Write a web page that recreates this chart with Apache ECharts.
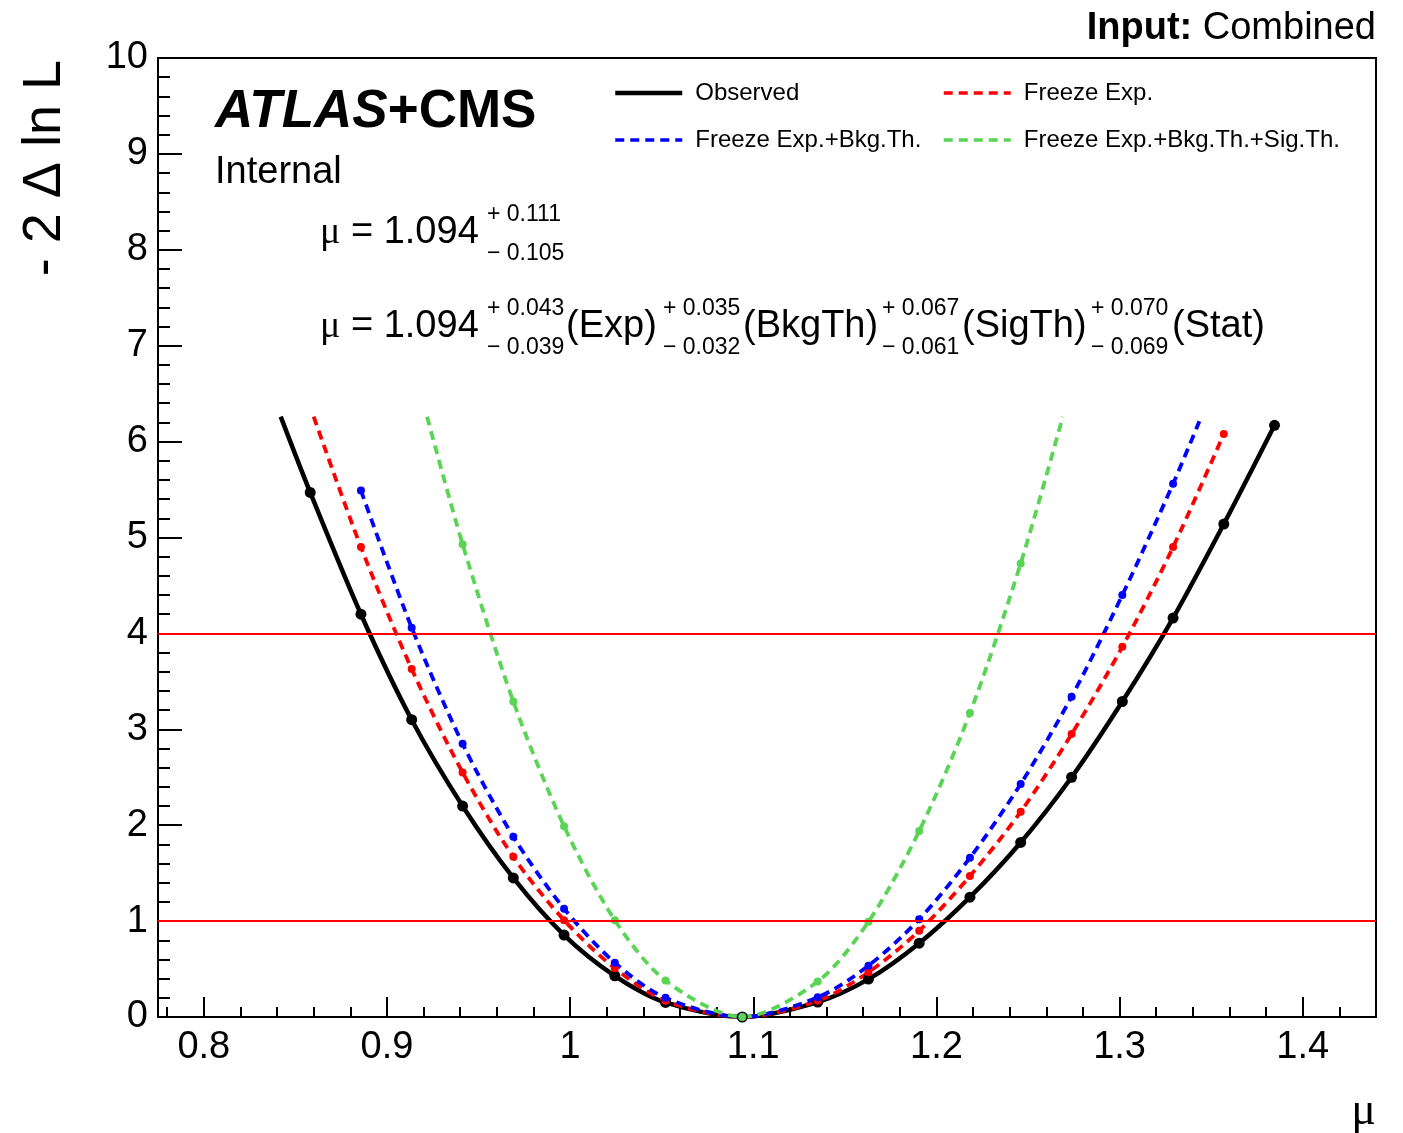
<!DOCTYPE html>
<html><head><meta charset="utf-8">
<script src="https://cdn.jsdelivr.net/npm/echarts@6/dist/echarts.min.js"></script>
<style>html,body{margin:0;padding:0;background:#fff}#c{width:1403px;height:1133px}</style>
</head><body><div id="c"></div>
<script>
// ---- data ----
const muScan = [0.8581, 0.8858, 0.9135, 0.9413, 0.9690, 0.9967, 1.0244, 1.0521, 1.0940, 1.1352, 1.1629, 1.1906, 1.2183, 1.2460, 1.2738, 1.3015, 1.3292, 1.3569, 1.3846];
const observed     = [5.47, 4.20, 3.10, 2.20, 1.45, 0.855, 0.43, 0.152, 0, 0.156, 0.395, 0.77, 1.25, 1.82, 2.50, 3.29, 4.16, 5.14, 6.17];
const freezeExp    = [null, 4.90, 3.63, 2.55, 1.67, 1.01, 0.508, 0.17, 0, 0.17, 0.466, 0.90, 1.47, 2.14, 2.95, 3.86, 4.90, 6.08, null];
const freezeExpBkg = [null, 5.49, 4.06, 2.85, 1.88, 1.13, 0.566, 0.20, 0, 0.205, 0.535, 1.02, 1.66, 2.43, 3.34, 4.40, 5.56, null, null];
const freezeAll    = [null, null, null, 4.93, 3.29, 1.99, 1.01, 0.38, 0, 0.37, 0.994, 1.94, 3.17, 4.73, null, null, null, null, null];
// points where each drawn curve stops (no marker)
const observedEnds     = [[0.842, 6.26], null];
const freezeExpEnds    = [[0.860, 6.26], null];
const freezeExpBkgEnds = [null, [1.3446, 6.26]];
const freezeAllEnds    = [[0.9219, 6.26], [1.269, 6.26]];
const thresholds = [1, 4];
const xMajorTicks = [0.8, 0.9, 1.0, 1.1, 1.2, 1.3, 1.4];
const xMinorTicks = [0.78, 0.82, 0.84, 0.86, 0.88, 0.92, 0.94, 0.96, 0.98, 1.02, 1.04, 1.06, 1.08, 1.12, 1.14, 1.16, 1.18, 1.22, 1.24, 1.26, 1.28, 1.32, 1.34, 1.36, 1.38, 1.42, 1.44];
const seriesNames = ['Observed', 'Freeze Exp.', 'Freeze Exp.+Bkg.Th.', 'Freeze Exp.+Bkg.Th.+Sig.Th.'];
const seriesColors = ['#000000', '#ff0000', '#0000ff', '#59d454'];

const SANS = "'Liberation Sans', Arial, Helvetica, sans-serif";
const SERIF = "'Liberation Serif', 'Times New Roman', serif";
const SOLID_W = 4.5, DASH_W = 3.8, DASH = [9, 6];

function build(vals, ends) {
  const out = [];
  if (ends[0]) out.push({ value: ends[0], symbol: 'none' });
  muScan.forEach((m, i) => { if (vals[i] !== null) out.push([m, vals[i]]); });
  if (ends[1]) out.push({ value: ends[1], symbol: 'none' });
  return out;
}

function curve(idx, vals, ends, dashed, size) {
  const color = seriesColors[idx];
  return {
    name: seriesNames[idx], type: 'line', data: build(vals, ends), smooth: 0.3,
    symbol: 'circle', symbolSize: size, clip: true,
    lineStyle: { color, width: dashed ? DASH_W : SOLID_W, type: dashed ? DASH : 'solid' },
    itemStyle: { color },
    emphasis: { disabled: true }
  };
}

function txt(x, y, text, size, opts) {
  opts = opts || {};
  return {
    type: 'text', x, y, rotation: opts.rotation || 0, silent: true,
    style: {
      text, fill: '#000', fontSize: size, fontFamily: opts.family || SANS,
      fontWeight: opts.weight || 'normal', fontStyle: opts.style || 'normal',
      align: opts.align || 'left', textAlign: opts.align || 'left',
      verticalAlign: 'middle', textVerticalAlign: 'middle', rich: opts.rich
    }
  };
}

const muRich = { m: { fontFamily: SERIF, fontSize: 38 }, n: { fontFamily: SANS, fontSize: 38 } };
const errs2 = [
  { x: 487, up: '+ 0.043', dn: '\u2212 0.039', lab: '(Exp)', lx: 566 },
  { x: 663, up: '+ 0.035', dn: '\u2212 0.032', lab: '(BkgTh)', lx: 743 },
  { x: 882, up: '+ 0.067', dn: '\u2212 0.061', lab: '(SigTh)', lx: 962 },
  { x: 1091, up: '+ 0.070', dn: '\u2212 0.069', lab: '(Stat)', lx: 1172 }
];

const graphics = [
  txt(1376, 29, '{b|Input:} Combined', 38, { align: 'right', rich: { b: { fontWeight: 'bold', fontSize: 38, fontFamily: SANS } } }),
  txt(215, 112, '{a|ATLAS}{b|+CMS}', 53, { rich: { a: { fontWeight: 'bold', fontStyle: 'italic', fontSize: 53, fontFamily: SANS }, b: { fontWeight: 'bold', fontSize: 53, fontFamily: SANS } } }),
  txt(215, 173, 'Internal', 38),
  txt(320, 233, '{m|\u03bc}{n| = 1.094}', 38, { rich: muRich }),
  txt(487, 215, '+ 0.111', 23),
  txt(487, 254, '\u2212 0.105', 23),
  txt(320, 327, '{m|\u03bc}{n| = 1.094}', 38, { rich: muRich }),
  txt(45, 60, '- 2 \u0394 ln L', 54, { align: 'right', rotation: Math.PI / 2 }),
  txt(1376, 1112, '\u03bc', 46, { align: 'right', family: SERIF })
];
errs2.forEach(e => {
  graphics.push(txt(e.x, 309, e.up, 23));
  graphics.push(txt(e.x, 348, e.dn, 23));
  graphics.push(txt(e.lx, 327, e.lab, 38));
});

function legendItem(idx) {
  const dashed = idx > 0;
  return {
    name: seriesNames[idx],
    lineStyle: { color: seriesColors[idx], width: dashed ? 3.5 : SOLID_W, type: dashed ? DASH : 'solid' }
  };
}

const legendCommon = {
  orient: 'vertical', top: 81, itemWidth: 67, itemHeight: 14, itemGap: 23,
  selectedMode: false, padding: 0,
  itemStyle: { color: 'rgba(0,0,0,0)', borderWidth: 0, opacity: 0 },
  textStyle: { fontSize: 24, fontFamily: SANS, color: '#000', lineHeight: 24, padding: [0, 0, 0, 8] }
};

const chart = echarts.init(document.getElementById('c'), null, { renderer: 'canvas' });
chart.setOption({
  animation: false,
  backgroundColor: '#fff',
  grid: { left: 158, right: 27, top: 58, bottom: 116, show: true, borderColor: '#000', borderWidth: 2, backgroundColor: 'rgba(0,0,0,0)', containLabel: false, outerBoundsMode: 'none' },
  legend: [
    Object.assign({}, legendCommon, { left: 613, data: [legendItem(0), legendItem(2)] }),
    Object.assign({}, legendCommon, { left: 942, data: [legendItem(1), legendItem(3)] })
  ],
  xAxis: [{
    type: 'value', min: 0.775, max: 1.44, position: 'bottom',
    axisLine: { show: true, onZero: false, lineStyle: { color: '#000', width: 2 } },
    axisTick: { show: true, inside: true, length: 20, customValues: xMajorTicks, lineStyle: { color: '#000', width: 2 } },
    axisLabel: { show: true, customValues: xMajorTicks, margin: 12, fontSize: 38, fontFamily: SANS, color: '#000' },
    splitLine: { show: false }
  }, {
    type: 'value', min: 0.775, max: 1.44, position: 'bottom',
    axisLine: { show: false },
    axisTick: { show: true, inside: true, length: 10, customValues: xMinorTicks, lineStyle: { color: '#000', width: 2 } },
    axisLabel: { show: false },
    splitLine: { show: false }
  }],
  yAxis: [{
    type: 'value', min: 0, max: 10, interval: 1,
    axisLine: { show: true, onZero: false, lineStyle: { color: '#000', width: 2 } },
    axisTick: { show: true, inside: true, length: 24, lineStyle: { color: '#000', width: 2 } },
    minorTick: { show: true, splitNumber: 5, length: 12, lineStyle: { color: '#000', width: 2 } },
    axisLabel: { fontSize: 38, fontFamily: SANS, color: '#000', margin: 10, padding: [6, 0, 0, 0], showMinLabel: true, showMaxLabel: true },
    splitLine: { show: false }, minorSplitLine: { show: false }
  }],
  series: [
    {
      type: 'line', data: [], silent: true,
      markLine: {
        silent: true, symbol: ['none', 'none'], label: { show: false }, animation: false,
        lineStyle: { color: '#ff0000', width: 2, type: 'solid' },
        emphasis: { disabled: true },
        data: thresholds.map(v => ({ yAxis: v }))
      }
    },
    curve(0, observed, observedEnds, false, 11),
    curve(1, freezeExp, freezeExpEnds, true, 8),
    curve(2, freezeExpBkg, freezeExpBkgEnds, true, 8),
    curve(3, freezeAll, freezeAllEnds, true, 8)
  ],
  graphic: graphics
});
</script></body></html>
